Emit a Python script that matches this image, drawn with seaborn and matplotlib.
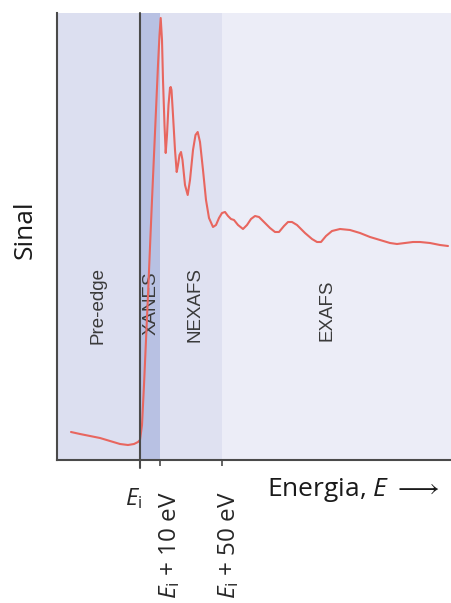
import matplotlib
matplotlib.use("Agg")
import matplotlib.pyplot as plt
import seaborn as sns
import pandas as pd

# curve (arbitrary energy units, arbitrary signal)
energy = [14, 23, 33, 43, 53, 63, 71, 77, 81, 83, 85, 87, 89, 91, 93, 95, 97, 99, 101,
          102.5, 103.7, 105, 106, 107.5, 108.7, 110, 111.5, 113, 113.7, 114.5, 116, 118,
          119.7, 121, 122.5, 124, 125.5, 128, 130.7, 133, 136, 138.5, 140.7, 143, 146,
          149, 152, 156, 159, 162, 165, 168, 171, 174, 177, 181, 186, 190, 194, 198, 202,
          207, 213, 218, 222, 227, 231, 235, 240, 248, 255, 260, 264, 269, 275, 283, 293,
          303, 313, 323, 333, 340, 348, 356, 363, 373, 383, 391]
signal = [28, 26, 24, 22, 19, 16, 15, 16, 18, 20, 35, 75, 120, 165, 213, 260, 305, 350, 395,
          425, 442, 420, 380, 335, 307, 325, 355, 372, 373, 370, 345, 310,
          288, 295, 305, 308, 300, 275, 265, 280, 310, 325, 328, 318, 290,
          260, 242, 233, 235, 242, 247, 248, 244, 241, 240, 235, 231, 235, 241, 244, 243,
          238, 232, 228, 228, 234, 238, 238, 235, 227, 221, 218, 218, 224, 229, 231, 230,
          227, 223, 220, 217, 216, 217, 218, 218, 217, 215, 214]

# regions
region_edges = [0, 83, 103, 165, 395]
region_names = ["Pre-edge", "XANES", "NEXAFS", "EXAFS"]
region_colors = ["#dcdff0", "#b8c1e3", "#dfe1f1", "#ecedf7"]
label_x = [41, 94, 138, 270]
label_y = [154, 157, 155, 150]

tick_pos = [83, 103, 165]
tick_labels = ["$E_\\mathrm{i}$", "$E_\\mathrm{i}$ + 10 eV", "$E_\\mathrm{i}$ + 50 eV"]

sns.set_theme(style="white")
plt.rcParams["font.family"] = ["Open Sans", "DejaVu Sans"]
plt.rcParams["mathtext.fontset"] = "custom"
plt.rcParams["mathtext.rm"] = "Open Sans"
plt.rcParams["mathtext.it"] = "Open Sans:italic"

fig = plt.figure(figsize=(4.52, 6.03), dpi=100)
ax = fig.add_axes([57 / 452, 1 - 460 / 603, 395 / 452, 447 / 603])

for i, name in enumerate(region_names):
    ax.axvspan(region_edges[i], region_edges[i + 1], color=region_colors[i], lw=0, zorder=0)
    ax.text(label_x[i], label_y[i], name, rotation=90, ha="center", va="center",
            fontsize=13.5, color="#3a3a3a", family="Liberation Sans")

df = pd.DataFrame({"energy": energy, "signal": signal})
sns.lineplot(data=df, x="energy", y="signal", color="#e8665f", lw=1.5, ax=ax, zorder=3)

ax.axvline(tick_pos[0], ymin=-8 / 447, ymax=1, color="#4a4a4a", lw=1.5, clip_on=False, zorder=4)

ax.set_xlim(0, 395)
ax.set_ylim(0, 447)
ax.set_yticks([])
ax.set_xticks(tick_pos[1:])
ax.set_xticklabels([])
ax.tick_params(axis="x", bottom=True, length=4, width=1.2, color="#4a4a4a")
for s in ["top", "right"]:
    ax.spines[s].set_visible(False)
for s in ["left", "bottom"]:
    ax.spines[s].set_color("#4a4a4a")
    ax.spines[s].set_linewidth(1.5)
ax.set_xlabel("")
ax.set_ylabel("")

# tick labels
ax.annotate(tick_labels[0], xy=(tick_pos[0], 0), xycoords=("data", "axes fraction"),
            xytext=(-6, -26), textcoords="offset pixels", ha="center", va="top", fontsize=17)
for p, lab, dx in zip(tick_pos[1:], tick_labels[1:], [10, 7]):
    ax.annotate(lab, xy=(p, 0), xycoords=("data", "axes fraction"),
                xytext=(dx, -31), textcoords="offset pixels", ha="center", va="top",
                rotation=90, fontsize=17.5)

fig.text(267 / 452, 1 - 490 / 603, "Energia, $E$ $\\longrightarrow$", ha="left", va="center",
         fontsize=19, color="#1a1a1a")
fig.text(25 / 452, 1 - 230 / 603, "Sinal", rotation=90, ha="center", va="center",
         fontsize=19, color="#1a1a1a")

fig.savefig("out.png", dpi=100)
